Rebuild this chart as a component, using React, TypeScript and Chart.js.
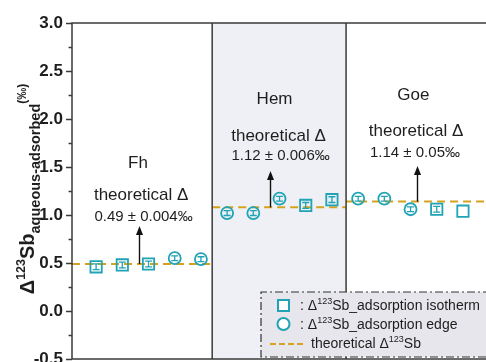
import React, { useEffect, useRef } from 'react';
import { Chart, registerables } from 'chart.js';

Chart.register(...registerables);

const FONT = "'Liberation Sans', Arial, sans-serif";

// ---------- data ----------
const mineralNames = ['Fh', 'Hem', 'Goe'];
const theoreticalLabels = ['0.49 ± 0.004‰', '1.12 ± 0.006‰', '1.14 ± 0.05‰'];
const theoreticalLine = [0.49, 1.08, 1.14];
const regionEdges = [0.08, 5.43, 10.54, 15.88];

const isothermPos = [1, 2, 3, 9, 10, 14, 15];
const isothermVal = [0.46, 0.48, 0.49, 1.1, 1.16, 1.06, 1.04];
const isothermErr = [0.03, 0.03, 0.03, 0.03, 0.03, 0.03, 0];

const edgePos = [4, 5, 6, 7, 8, 11, 12, 13];
const edgeVal = [0.55, 0.54, 1.02, 1.02, 1.17, 1.17, 1.17, 1.06];
const edgeErr = [0.025, 0.025, 0.025, 0.025, 0.025, 0.025, 0.025, 0.025];

const yMin = -0.5;
const yMax = 3.0;
const yStep = 0.5;
const yMinorStep = 0.25;

// ---------- annotation layout (data units) ----------
const nameX = [2.6, 7.81, 13.11];
const theoX = [2.72, 7.96, 13.21];
const valX = [2.81, 8.04, 13.17];
const arrowX = [2.64, 7.64, 13.25];
const nameY = [1.49, 2.156, 2.198];
const theoY = [1.156, 1.77, 1.823];
const valY = [0.94, 1.573, 1.604];
const tipY = [0.885, 1.458, 1.51];

const TEAL = '#1fa3b5';
const GOLD = '#d6a21e';
const FRAME = '#3a3a3a';
const TEXT = '#1e1e1e';

type Seg = { t: string; size: number; bold?: boolean; dy?: number };

function segFont(s: Seg) {
  return `${s.bold ? 'bold ' : ''}${s.size}px ${FONT}`;
}
function measureSegs(ctx: CanvasRenderingContext2D, segs: Seg[]) {
  let w = 0;
  for (const s of segs) {
    ctx.font = segFont(s);
    w += ctx.measureText(s.t).width;
  }
  return w;
}
function drawSegs(ctx: CanvasRenderingContext2D, segs: Seg[], x: number, y: number) {
  let cx = x;
  ctx.textAlign = 'left';
  ctx.textBaseline = 'alphabetic';
  for (const s of segs) {
    ctx.font = segFont(s);
    ctx.fillText(s.t, cx, y + (s.dy || 0));
    cx += ctx.measureText(s.t).width;
  }
}

const decorPlugin = {
  id: 'decor',
  beforeDatasetsDraw(chart: any) {
    const { ctx, chartArea } = chart;
    const xs = chart.scales.x;
    ctx.save();
    ctx.fillStyle = '#eef0f5';
    const l = xs.getPixelForValue(regionEdges[1]);
    const r = xs.getPixelForValue(regionEdges[2]);
    ctx.fillRect(l, chartArea.top, r - l, chartArea.bottom - chartArea.top);
    ctx.restore();
  },
  afterDatasetsDraw(chart: any) {
    const { ctx, chartArea } = chart;
    const xs = chart.scales.x;
    const ys = chart.scales.y;
    ctx.save();

    // error bars
    const drawErr = (pos: number[], val: number[], err: number[]) => {
      ctx.strokeStyle = TEAL;
      ctx.lineWidth = 1.3;
      pos.forEach((p, i) => {
        if (!err[i]) return;
        const px = xs.getPixelForValue(p);
        const y1 = ys.getPixelForValue(val[i] + err[i]);
        const y2 = ys.getPixelForValue(val[i] - err[i]);
        ctx.beginPath();
        ctx.moveTo(px, y1);
        ctx.lineTo(px, y2);
        ctx.moveTo(px - 3.5, y1);
        ctx.lineTo(px + 3.5, y1);
        ctx.moveTo(px - 3.5, y2);
        ctx.lineTo(px + 3.5, y2);
        ctx.stroke();
      });
    };
    drawErr(isothermPos, isothermVal, isothermErr);
    drawErr(edgePos, edgeVal, edgeErr);

    // frame
    ctx.strokeStyle = FRAME;
    ctx.lineWidth = 1.5;
    ctx.beginPath();
    ctx.moveTo(chartArea.right + 2, chartArea.top);
    ctx.lineTo(chartArea.left, chartArea.top);
    ctx.lineTo(chartArea.left, chartArea.bottom);
    ctx.lineTo(chartArea.right + 2, chartArea.bottom);
    for (const e of [regionEdges[1], regionEdges[2]]) {
      const px = xs.getPixelForValue(e);
      ctx.moveTo(px, chartArea.top);
      ctx.lineTo(px, chartArea.bottom);
    }
    ctx.stroke();

    // y ticks (major + minor)
    ctx.lineWidth = 1.3;
    ctx.beginPath();
    const n = Math.round((yMax - yMin) / yMinorStep);
    for (let i = 0; i <= n; i++) {
      const v = yMin + i * yMinorStep;
      const py = Math.round(ys.getPixelForValue(v)) + 0.5;
      const major = Math.abs(v / yStep - Math.round(v / yStep)) < 1e-6;
      const len = major ? 6 : 3.5;
      ctx.moveTo(chartArea.left, py);
      ctx.lineTo(chartArea.left - len, py);
    }
    ctx.stroke();

    // annotations
    ctx.fillStyle = TEXT;
    ctx.textAlign = 'center';
    ctx.textBaseline = 'alphabetic';
    for (let i = 0; i < 3; i++) {
      ctx.font = `17px ${FONT}`;
      ctx.fillText(mineralNames[i], xs.getPixelForValue(nameX[i]), ys.getPixelForValue(nameY[i]));
      ctx.fillText('theoretical Δ', xs.getPixelForValue(theoX[i]), ys.getPixelForValue(theoY[i]));
      ctx.font = `15px ${FONT}`;
      ctx.fillText(theoreticalLabels[i], xs.getPixelForValue(valX[i]), ys.getPixelForValue(valY[i]));
      // arrow
      const ax = Math.round(xs.getPixelForValue(arrowX[i])) + 0.5;
      const base = ys.getPixelForValue(theoreticalLine[i]);
      const tip = ys.getPixelForValue(tipY[i]);
      ctx.strokeStyle = '#111';
      ctx.lineWidth = 1.4;
      ctx.beginPath();
      ctx.moveTo(ax, base);
      ctx.lineTo(ax, tip + 6);
      ctx.stroke();
      ctx.fillStyle = '#111';
      ctx.beginPath();
      ctx.moveTo(ax, tip);
      ctx.lineTo(ax - 3.5, tip + 9);
      ctx.lineTo(ax + 3.5, tip + 9);
      ctx.closePath();
      ctx.fill();
      ctx.fillStyle = TEXT;
    }

    // y title (rotated, rich text)
    const title: Seg[] = [
      { t: 'Δ', size: 20, bold: true },
      { t: '123', size: 12.5, bold: true, dy: -9 },
      { t: 'Sb', size: 20, bold: true },
      { t: 'aqueous-adsorbed', size: 14.5, bold: true, dy: 6 },
      { t: '(‰)', size: 12, bold: true, dy: -8 },
    ];
    const tw = measureSegs(ctx, title);
    ctx.save();
    ctx.translate(34, 189 + tw / 2);
    ctx.rotate(-Math.PI / 2);
    ctx.fillStyle = TEXT;
    drawSegs(ctx, title, 0, 0);
    ctx.restore();

    // legend
    const lx = chartArea.left + 189;
    const ly = chartArea.top + 269;
    const lb = chartArea.bottom - 2;
    ctx.fillStyle = '#e6e6ec';
    ctx.fillRect(lx, ly, chart.width - lx + 5, lb - ly);
    ctx.strokeStyle = '#333';
    ctx.lineWidth = 1.2;
    ctx.setLineDash([8, 3, 2, 3]);
    ctx.beginPath();
    ctx.moveTo(chart.width + 5, ly);
    ctx.lineTo(lx, ly);
    ctx.lineTo(lx, lb);
    ctx.lineTo(chart.width + 5, lb);
    ctx.stroke();
    ctx.setLineDash([]);

    // legend symbols
    ctx.strokeStyle = TEAL;
    ctx.lineWidth = 2;
    ctx.fillStyle = '#ffffff';
    ctx.fillRect(lx + 17, ly + 8, 11, 11);
    ctx.strokeRect(lx + 17, ly + 8, 11, 11);
    ctx.beginPath();
    ctx.arc(lx + 22.5, ly + 32, 6, 0, Math.PI * 2);
    ctx.fill();
    ctx.stroke();
    ctx.strokeStyle = GOLD;
    ctx.setLineDash([6, 3]);
    ctx.beginPath();
    ctx.moveTo(lx + 9, ly + 52);
    ctx.lineTo(lx + 42, ly + 52);
    ctx.stroke();
    ctx.setLineDash([]);

    ctx.fillStyle = TEXT;
    drawSegs(ctx, [
      { t: ': Δ', size: 14 },
      { t: '123', size: 9, dy: -6 },
      { t: 'Sb_adsorption isotherm', size: 14 },
    ], lx + 39, ly + 18);
    drawSegs(ctx, [
      { t: ': Δ', size: 14 },
      { t: '123', size: 9, dy: -6 },
      { t: 'Sb_adsorption edge', size: 14 },
    ], lx + 39, ly + 37);
    drawSegs(ctx, [
      { t: 'theoretical Δ', size: 14 },
      { t: '123', size: 9, dy: -6 },
      { t: 'Sb', size: 14 },
    ], lx + 50, ly + 56);

    ctx.restore();
  },
};

export default function App() {
  const ref = useRef<HTMLCanvasElement>(null);

  useEffect(() => {
    if (!ref.current) return;
    const lineSets = theoreticalLine.map((v, i) => ({
      type: 'line' as const,
      data: [
        { x: regionEdges[i], y: v },
        { x: regionEdges[i + 1], y: v },
      ],
      borderColor: GOLD,
      borderWidth: 2,
      borderDash: [8, 5],
      pointRadius: 0,
      fill: false,
      order: 3,
    }));
    const chart = new Chart(ref.current, {
      type: 'scatter',
      data: {
        datasets: [
          ...lineSets,
          {
            type: 'scatter',
            data: isothermPos.map((p, i) => ({ x: p, y: isothermVal[i] })),
            pointStyle: 'rect',
            pointRadius: 8,
            borderColor: TEAL,
            borderWidth: 1.8,
            backgroundColor: 'rgba(255,255,255,0)',
            order: 1,
          },
          {
            type: 'scatter',
            data: edgePos.map((p, i) => ({ x: p, y: edgeVal[i] })),
            pointStyle: 'circle',
            pointRadius: 6,
            borderColor: TEAL,
            borderWidth: 1.8,
            backgroundColor: 'rgba(255,255,255,0)',
            order: 1,
          },
        ] as any,
      },
      options: {
        animation: false,
        responsive: false,
        layout: { autoPadding: false, padding: { left: 0, right: 0, top: 23, bottom: 3 } },
        plugins: { legend: { display: false }, tooltip: { enabled: false } },
        scales: {
          x: {
            type: 'linear',
            display: false,
            min: regionEdges[0],
            max: regionEdges[3],
          },
          y: {
            type: 'linear',
            min: yMin,
            max: yMax,
            border: { display: false },
            grid: { display: false, drawTicks: false },
            ticks: {
              stepSize: yStep,
              autoSkip: false,
              padding: 9,
              color: TEXT,
              font: { family: FONT, size: 17, weight: 'bold' },
              callback: (v: any) => Number(v).toFixed(1),
            },
            afterFit: (scale: any) => {
              scale.width = 72;
              scale.paddingTop = 0;
              scale.paddingBottom = 0;
            },
          },
        },
      },
      plugins: [decorPlugin],
    } as any);
    return () => chart.destroy();
  }, []);

  return (
    <div style={{ position: 'absolute', left: 0, top: 0, width: 486, height: 362, overflow: 'hidden', background: '#fff' }}>
      <canvas ref={ref} width={486} height={362} style={{ display: 'block' }} />
    </div>
  );
}
